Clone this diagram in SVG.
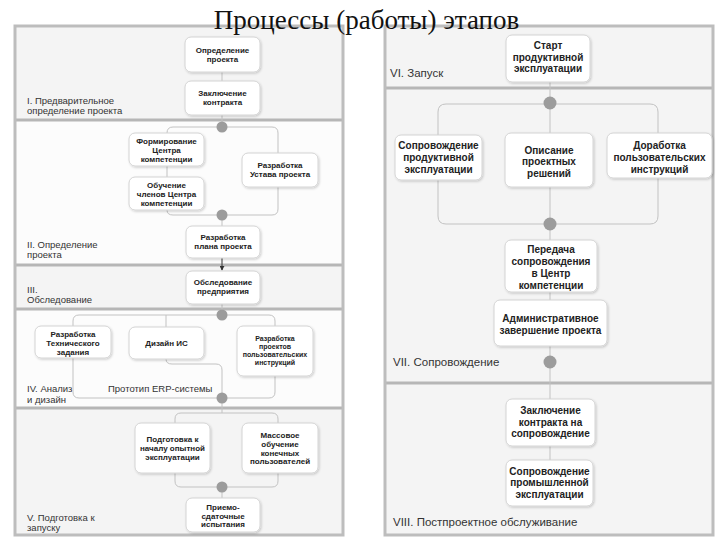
<svg xmlns="http://www.w3.org/2000/svg" width="720" height="540" viewBox="0 0 720 540">
<defs>
<filter id="sh" x="-10%" y="-10%" width="125%" height="130%">
<feDropShadow dx="1" dy="1.2" stdDeviation="1" flood-color="#000" flood-opacity="0.18"/>
</filter>
<marker id="arr" viewBox="0 0 6 6" refX="5" refY="3" markerWidth="5" markerHeight="5" orient="auto">
<path d="M0,0 L6,3 L0,6 z" fill="#333"/>
</marker>
<style>
.lg{fill:#f4f4f4}
.lw{fill:#fcfcfc}
.sep{stroke:#b6b6b6;stroke-width:3}
.frame{fill:none;stroke:#bdbdbd;stroke-width:3}
.node rect{fill:#fff;stroke:#d4d4d4;stroke-width:1;filter:url(#sh)}
.node text{font-family:"Liberation Sans",Arial,sans-serif;font-weight:bold;font-size:8px;fill:#222;text-anchor:middle}
.node.big text{font-size:10px}
.node.small text{font-size:7px}
.conn path,.conn line{fill:none;stroke:#c2c2c2;stroke-width:1}
.dot{fill:#9c9c9c}
.lt{font-family:"Liberation Sans",Arial,sans-serif;font-size:9.5px;fill:#333}
.rt{font-family:"Liberation Sans",Arial,sans-serif;font-size:11.5px;fill:#333}
</style>
</defs>
<rect width="720" height="540" fill="#fff"/>

<g id="left-panel">
<rect class="lg" x="15" y="26" width="328" height="94"/>
<rect class="lw" x="15" y="120" width="328" height="145"/>
<rect class="lg" x="15" y="265" width="328" height="44"/>
<rect class="lw" x="15" y="309" width="328" height="99"/>
<rect class="lg" x="15" y="408" width="328" height="127"/>
<line class="sep" x1="15" y1="120" x2="343" y2="120"/>
<line class="sep" x1="15" y1="265" x2="343" y2="265"/>
<line class="sep" x1="15" y1="309" x2="343" y2="309"/>
<line class="sep" x1="15" y1="408" x2="343" y2="408"/>
<rect class="frame" x="15" y="26" width="328" height="509"/>
<text class="lt" x="27" y="103.5">I. Предварительное</text>
<text class="lt" x="27" y="113.5">определение проекта</text>
<text class="lt" x="27" y="247.5">II. Определение</text>
<text class="lt" x="27" y="257.5">проекта</text>
<text class="lt" x="27" y="293">III.</text>
<text class="lt" x="27" y="302.5">Обследование</text>
<text class="lt" x="27" y="391.5">IV. Анализ</text>
<text class="lt" x="27" y="402.5">и дизайн</text>
<text class="lt" x="27" y="520.5">V. Подготовка к</text>
<text class="lt" x="27" y="530.5">запуску</text>
</g>

<g id="right-panel">
<rect class="lg" x="385" y="26" width="328" height="62"/>
<rect class="lg" x="385" y="88" width="328" height="295"/>
<rect class="lg" x="385" y="383" width="328" height="152"/>
<line class="sep" x1="385" y1="88" x2="713" y2="88"/>
<line class="sep" x1="385" y1="383" x2="713" y2="383"/>
<rect class="frame" x="385" y="26" width="328" height="509"/>
<text class="rt" x="390" y="77">VI. Запуск</text>
<text class="rt" x="393" y="366">VII. Сопровождение</text>
<text class="rt" x="393" y="526">VIII. Постпроектное обслуживание</text>
</g>

<g id="connectors" class="conn">
<line x1="222" y1="72" x2="222" y2="81"/>
<line x1="222" y1="115" x2="222" y2="127"/>
<path d="M167,133 Q167,127 173,127 L272,127 Q278,127 278,133 L278,153"/>
<line x1="167" y1="166" x2="167" y2="177"/>
<path d="M167,210 Q167,215 173,215 L272,215 Q278,215 278,209 L278,187"/>
<line x1="222" y1="215" x2="222" y2="226"/>
<line x1="222" y1="258" x2="222" y2="270" style="stroke:#333" marker-end="url(#arr)"/>
<line x1="222" y1="304" x2="222" y2="315"/>
<path d="M73,326 L73,321 Q73,315 79,315 L269,315 Q275,315 275,321 L275,326"/>
<line x1="166" y1="315" x2="166" y2="327"/>
<path d="M73,358 L73,392 Q73,398 79,398 L269,398 Q275,398 275,392 L275,376"/>
<path d="M166,359 Q166,364 172,364 L216,364 Q222,364 222,370 L222,398"/>
<line x1="222" y1="398" x2="222" y2="413"/>
<path d="M175,423 L175,419 Q175,413 181,413 L272,413 Q278,413 278,419 L278,423"/>
<path d="M175,473 L175,481 Q175,487 181,487 L272,487 Q278,487 278,481 L278,473"/>
<line x1="222" y1="487" x2="222" y2="498"/>

<line x1="550" y1="82" x2="550" y2="133"/>
<path d="M438,135 L438,112 Q438,104 446,104 L650,104 Q658,104 658,112 L658,133"/>
<path d="M438,180 L438,216 Q438,224 446,224 L650,224 Q658,224 658,216 L658,178"/>
<line x1="550" y1="187" x2="550" y2="240"/>
<line x1="550" y1="292" x2="550" y2="300"/>
<line x1="550" y1="346" x2="550" y2="399"/>
<line x1="550" y1="446" x2="550" y2="460"/>
</g>

<g id="bars">
<circle class="dot" cx="222" cy="127" r="5.5"/>
<circle class="dot" cx="222" cy="215" r="5.5"/>
<circle class="dot" cx="222" cy="315" r="5.5"/>
<circle class="dot" cx="222" cy="398" r="5.5"/>
<circle class="dot" cx="222" cy="487" r="5.5"/>
<circle class="dot" cx="550" cy="103" r="6.5"/>
<circle class="dot" cx="550" cy="224" r="6.5"/>
<circle class="dot" cx="550" cy="362" r="6.5"/>
</g>

<text x="366.5" y="29" font-family="'Liberation Serif','Times New Roman',serif" font-size="27" fill="#111" text-anchor="middle">Процессы (работы) этапов</text>

<g id="n1" class="node"><rect x="185" y="37" width="75" height="35" rx="6"/><text x="222.5" y="52.5">Определение</text><text x="222.5" y="61.5">проекта</text></g>
<g id="n2" class="node"><rect x="185" y="81" width="75" height="34" rx="6"/><text x="222.5" y="96">Заключение</text><text x="222.5" y="105">контракта</text></g>
<g id="n3" class="node"><rect x="129" y="133" width="75" height="33" rx="6"/><text x="166.5" y="143.5">Формирование</text><text x="166.5" y="152.5">Центра</text><text x="166.5" y="161.5">компетенции</text></g>
<g id="n4" class="node"><rect x="242" y="153" width="76" height="34" rx="6"/><text x="280" y="168">Разработка</text><text x="280" y="177">Устава проекта</text></g>
<g id="n5" class="node"><rect x="129" y="177" width="75" height="33" rx="6"/><text x="166.5" y="187.5">Обучение</text><text x="166.5" y="196.5">членов Центра</text><text x="166.5" y="205.5">компетенции</text></g>
<g id="n6" class="node"><rect x="186" y="226" width="74" height="32" rx="6"/><text x="223" y="240">Разработка</text><text x="223" y="249">плана проекта</text></g>
<g id="n7" class="node"><rect x="186" y="271" width="74" height="33" rx="6"/><text x="223" y="285">Обследование</text><text x="223" y="294">предприятия</text></g>
<g id="n8" class="node"><rect x="35" y="326" width="76" height="32" rx="6"/><text x="73" y="336.5">Разработка</text><text x="73" y="345.5">Технического</text><text x="73" y="354.5">задания</text></g>
<g id="n9" class="node"><rect x="129" y="327" width="75" height="32" rx="6"/><text x="166.5" y="346">Дизайн ИС</text></g>
<g id="n10" class="node small"><rect x="237" y="326" width="76" height="50" rx="6"/><text x="275" y="341">Разработка</text><text x="275" y="349">проектов</text><text x="275" y="357">пользовательских</text><text x="275" y="365">инструкций</text></g>
<g id="n11" class="node"><rect x="135" y="423" width="75" height="50" rx="6"/><text x="172.5" y="442">Подготовка к</text><text x="172.5" y="451">началу опытной</text><text x="172.5" y="460">эксплуатации</text></g>
<g id="n12" class="node"><rect x="242" y="423" width="76" height="50" rx="6"/><text x="280" y="438">Массовое</text><text x="280" y="447">обучение</text><text x="280" y="455.5">конечных</text><text x="280" y="464">пользователей</text></g>
<g id="n13" class="node"><rect x="186" y="498" width="74" height="34" rx="6"/><text x="223" y="510">Приемо-</text><text x="223" y="518.5">сдаточные</text><text x="223" y="527">испытания</text></g>
<text x="108" y="391.5" font-family="'Liberation Sans',Arial,sans-serif" font-size="9.5" fill="#333">Прототип ERP-системы</text>

<g id="r1" class="node big"><rect x="506" y="35" width="84" height="47" rx="6"/><text x="548" y="49">Старт</text><text x="548" y="60.5">продуктивной</text><text x="548" y="72">эксплуатации</text></g>
<g id="r2" class="node big"><rect x="395" y="135" width="87" height="45" rx="6"/><text x="438.5" y="148.5">Сопровождение</text><text x="438.5" y="160.5">продуктивной</text><text x="438.5" y="172.5">эксплуатации</text></g>
<g id="r3" class="node big"><rect x="505" y="133" width="88" height="54" rx="6"/><text x="549" y="153.5">Описание</text><text x="549" y="165">проектных</text><text x="549" y="176.5">решений</text></g>
<g id="r4" class="node big"><rect x="607" y="133" width="105" height="45" rx="6"/><text x="659.5" y="148.5">Доработка</text><text x="659.5" y="160.5">пользовательских</text><text x="659.5" y="172.5">инструкций</text></g>
<g id="r5" class="node big"><rect x="505" y="240" width="92" height="52" rx="6"/><text x="551" y="252.5">Передача</text><text x="551" y="264.5">сопровождения</text><text x="551" y="276.5">в Центр</text><text x="551" y="288.5">компетенции</text></g>
<g id="r6" class="node big"><rect x="494" y="300" width="113" height="46" rx="6"/><text x="550.5" y="321.5">Административное</text><text x="550.5" y="333.5">завершение проекта</text></g>
<g id="r7" class="node big"><rect x="506" y="399" width="89" height="47" rx="6"/><text x="550.5" y="413.5">Заключение</text><text x="550.5" y="425.5">контракта на</text><text x="550.5" y="437">сопровождение</text></g>
<g id="r8" class="node big"><rect x="506" y="460" width="87" height="46" rx="6"/><text x="549.5" y="474.5">Сопровождение</text><text x="549.5" y="486">промышленной</text><text x="549.5" y="497.5">эксплуатации</text></g>
</svg>
